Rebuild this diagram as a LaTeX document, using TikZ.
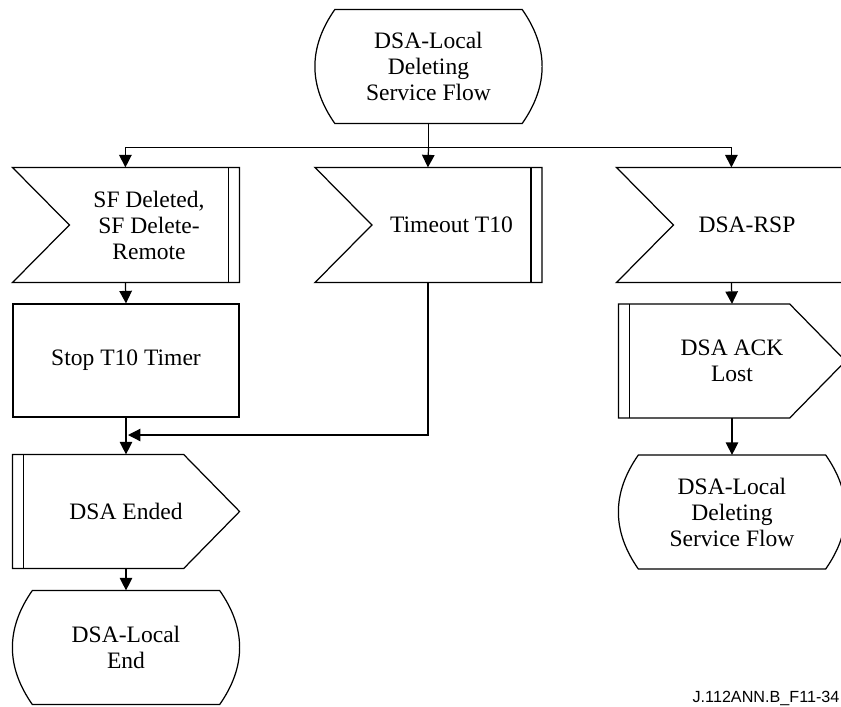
\documentclass[tikz,border=0pt]{standalone}
\usepackage{fontspec}
\setmainfont{Liberation Serif}
\newfontfamily\figfont{Liberation Sans}
\usepackage{tikz}
\usetikzlibrary{positioning, arrows.meta, calc}

\begin{document}
\begin{tikzpicture}[
      x=0.02cm, y=-0.02cm,
      line width=0.7pt,
      every node/.style={font=\fontsize{13.4}{14.8}\selectfont, align=center, inner sep=0pt},
      sdlstate/.style={minimum width=4.52cm, minimum height=2.26cm},
      sdlinput/.style={minimum width=3.16cm, minimum height=2.28cm},
      sdloutput/.style={minimum width=4.52cm, minimum height=2.26cm},
      sdltask/.style={draw, minimum width=4.52cm, minimum height=2.26cm},
      flow/.style={-{Triangle[length=2.5mm, width=2.5mm]}},
    ]
    \useasboundingbox (0,0) rectangle (841,706);

    % States
    \node[sdlstate] (start) at (428.5, 66.5) {DSA-Local\\Deleting\\Service Flow};
    \node[sdlstate] (localend) at (126, 647.5) {DSA-Local\\End};
    \node[sdlstate] (deleting) at (732, 512) {DSA-Local\\Deleting\\Service Flow};

    % Inputs
    \node[sdlinput] (sfdel) at (149, 225) {SF Deleted,\\SF Delete-\\Remote};
    \node[sdlinput] (timeout) at (451.5, 225) {Timeout T10};
    \node[sdlinput, minimum width=2.92cm] (rsp) at (747, 225) {DSA-RSP};

    % Task and outputs
    \node[sdltask] (stop) at (126, 360.5) {Stop T10 Timer};
    \node[sdloutput] (ended) at (126, 511.5) {DSA Ended};
    \node[sdloutput] (acklost) at (732, 361) {DSA ACK\\Lost};

    % Outlines
    \foreach \n in {start, localend, deleting} {
      \draw ($(\n.north west)+(20,0)$) -- ($(\n.north east)+(-20,0)$)
        .. controls ($(\n.north east)+(6.7,38)$) and ($(\n.south east)+(6.7,-38)$) .. ($(\n.south east)+(-20,0)$)
        -- ($(\n.south west)+(20,0)$)
        .. controls ($(\n.south west)+(-6.7,-38)$) and ($(\n.north west)+(-6.7,38)$) .. ($(\n.north west)+(20,0)$)
        -- cycle;
    }
    \foreach \n in {sfdel, timeout} {
      \draw ($(\n.north west)+(-57,0)$) -- ($(\n.north east)+(11,0)$) -- ($(\n.south east)+(11,0)$)
        -- ($(\n.south west)+(-57,0)$) -- (\n.west) -- cycle;
      \draw (\n.north east) -- (\n.south east);
      \coordinate (\n-top) at ($(\n.north west)+(56,0)$);
      \coordinate (\n-bot) at ($(\n.south west)+(56,0)$);
    }
    \draw ($(rsp.north east)+(30,0)$) -- ($(rsp.north west)+(-57,0)$) -- (rsp.west)
      -- ($(rsp.south west)+(-57,0)$) -- ($(rsp.south east)+(30,0)$);
    \coordinate (rsp-top) at ($(rsp.north west)+(58,0)$);
    \coordinate (rsp-bot) at ($(rsp.south west)+(58,0)$);
    \foreach \n in {ended, acklost} {
      \draw (\n.north west) -- ($(\n.north east)+(-56,0)$) -- (\n.east)
        -- ($(\n.south east)+(-56,0)$) -- (\n.south west) -- cycle;
      \draw ($(\n.north west)+(11,0)$) -- ($(\n.south west)+(11,0)$);
    }

    % Arrows
    \draw (start.south) -- ++(0,24) coordinate (split);
    \draw[flow] (split) -| (sfdel-top);
    \draw[flow] (split) -- (timeout-top);
    \draw[flow] (split) -| (rsp-top);
    \draw[flow] (sfdel-bot) -- (stop.north);
    \coordinate (merge) at (stop.south |- 0,435);
    \draw[flow] (timeout-bot) |- ($(merge)+(2,0)$);
    \draw[flow] (stop.south) -- (ended.north);
    \draw[flow] (ended.south) -- (localend.north);
    \draw[flow] (rsp-bot) -- (acklost.north);
    \draw[flow] (acklost.south) -- (deleting.north);

    \node[font=\figfont\fontsize{9.2}{10}\selectfont, anchor=base east] (figid) at (840, 702) {J.112ANN.B\_F11-34};
  \end{tikzpicture}
\end{document}
